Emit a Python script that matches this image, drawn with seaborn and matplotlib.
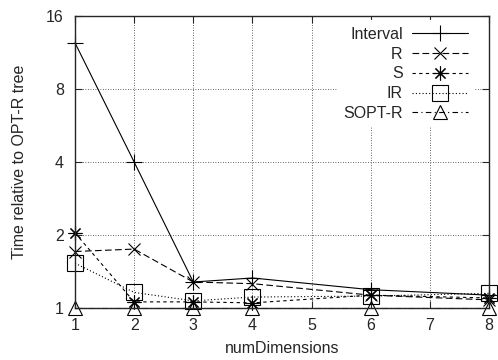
import numpy as np
import pandas as pd
import matplotlib
matplotlib.use("Agg")
import matplotlib.pyplot as plt
import seaborn as sns
from matplotlib.ticker import FixedLocator, FixedFormatter, NullLocator

dims = [1, 2, 3, 4, 6, 8]
interval = [12.4, 4.0, 1.28, 1.33, 1.19, 1.13]
r_tree = [1.71, 1.75, 1.28, 1.26, 1.13, 1.08]
s_tree = [2.04, 1.06, 1.06, 1.05, 1.13, 1.10]
ir_tree = [1.53, 1.16, 1.07, 1.11, 1.12, 1.15]
sopt_r = [1.0, 1.0, 1.0, 1.0, 1.0, 1.0]

series = ["Interval", "R", "S", "IR", "SOPT-R"]
values = [interval, r_tree, s_tree, ir_tree, sopt_r]

df = pd.DataFrame({
    "numDimensions": dims * len(series),
    "time": np.concatenate(values),
    "series": np.repeat(series, len(dims)),
})

sns.set_style("ticks")
plt.rcParams["font.family"] = ["Liberation Sans", "DejaVu Sans"]
fs = 11.5
plt.rcParams["font.size"] = fs

styles = {
    "Interval": dict(marker="+", ms=12, dashes=None),
    "R": dict(marker="x", ms=9, dashes=(6, 3)),
    "S": dict(marker=(8, 2, 0), ms=10, dashes=(3, 3)),
    "IR": dict(marker="s", ms=11, dashes=(1, 2)),
    "SOPT-R": dict(marker="^", ms=10, dashes=(5, 3, 1, 3)),
}

fig = plt.figure(figsize=(4.98, 3.6), dpi=100)
ax = fig.add_axes([0.1506, 0.1444, 0.8314, 0.8112])

for name in series:
    st = styles[name]
    sub = df[df["series"] == name]
    sns.lineplot(data=sub, x="numDimensions", y="time", ax=ax, color="black",
                 lw=0.8, marker=st["marker"], ms=st["ms"], mfc="none",
                 mec="black", mew=0.8, label=name, clip_on=False,
                 estimator=None)
    line = ax.get_lines()[-1]
    if st["dashes"] is not None:
        line.set_dashes(st["dashes"])

ax.set_yscale("log", base=2)
ax.set_xlim(1, 8)
ax.set_ylim(1, 16)
ax.yaxis.set_major_locator(FixedLocator([1, 2, 4, 8, 16]))
ax.yaxis.set_major_formatter(FixedFormatter(["1", "2", "4", "8", "16"]))
ax.yaxis.set_minor_locator(NullLocator())
ax.set_xticks(range(1, 9))
ax.grid(True, color="#333333", ls=(0, (1, 2)), lw=0.6)
ax.tick_params(direction="in", top=True, right=True, length=5, width=0.8,
               labelsize=fs)
ax.tick_params(axis="x", pad=7)
ax.tick_params(axis="y", pad=8)
for sp in ax.spines.values():
    sp.set_linewidth(1.0)
    sp.set_visible(True)
    sp.set_zorder(5)
ax.set_xlabel("numDimensions", fontsize=fs, labelpad=6)
ax.set_ylabel("Time relative to OPT-R tree", fontsize=fs, labelpad=14)

leg = ax.legend(loc="upper right", bbox_to_anchor=(0.965, 0.985),
                markerfirst=False, frameon=True, handlelength=3.5,
                handletextpad=0.6, labelspacing=0.3, borderaxespad=0,
                fontsize=fs, framealpha=1)
leg.get_frame().set_edgecolor("none")
leg.get_frame().set_facecolor("white")

fig.savefig("out.png", dpi=100)
